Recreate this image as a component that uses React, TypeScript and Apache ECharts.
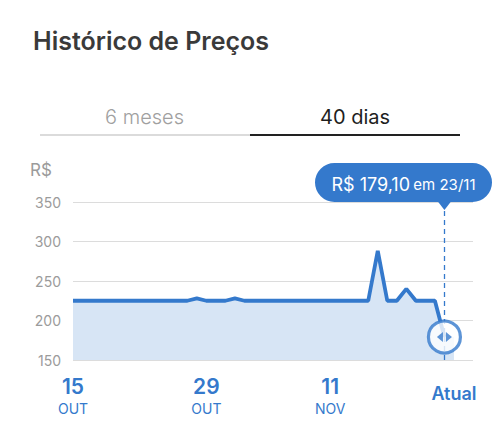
import React, { useEffect, useRef } from "react";
import * as echarts from "echarts";

// Price per day, day 0 = 15/10 ... day 39 = 23/11
const prices: number[] = [
  225, 225, 225, 225, 225, 225, 225, 225, 225, 225,
  225, 225, 225, 228, 225, 225, 225, 228, 225, 225,
  225, 225, 225, 225, 225, 225, 225, 225, 225, 225,
  225, 225, 288, 225, 225, 240, 225, 225, 225, 179.1,
];
const atualDay = 40;
const currentPrice = 179.1;
const currentDate = "23/11";
const tickDays = [0, 14, 27, 40];
const tickDayLabels = ["15", "29", "11", "Atual"];
const tickMonthLabels = ["OUT", "OUT", "NOV", ""];
const yTicks = [150, 200, 250, 300, 350];

const BLUE = "#3479cc";
const FONT = "Inter, 'Noto Sans', sans-serif";

export default function App() {
  const ref = useRef<HTMLDivElement>(null);
  useEffect(() => {
    document.body.style.margin = "0";
    if (!ref.current) return;
    const chart = echarts.init(ref.current, null, { renderer: "svg" });
    const lineData = prices.map((v, i) => [i, v]);
    const areaData = [...lineData, [atualDay, currentPrice]];
    const lastIdx = prices.length - 1;
    chart.setOption({
      animation: false,
      textStyle: { fontFamily: FONT },
      grid: { left: 73, right: 27, top: 202, bottom: 67 },
      xAxis: {
        type: "value",
        min: 0,
        max: 42,
        axisLine: { show: false },
        axisTick: { show: false },
        splitLine: { show: false },
        axisLabel: {
          customValues: tickDays,
          margin: 14,
          formatter: (v: number) => {
            const k = tickDays.indexOf(v);
            if (k < 0) return "";
            if (!tickMonthLabels[k]) return `{a|${tickDayLabels[k]}}`;
            return `{d|${tickDayLabels[k]}}\n{m|${tickMonthLabels[k]}}`;
          },
          rich: {
            d: { fontSize: 21, fontWeight: 600, color: BLUE, lineHeight: 24, fontFamily: FONT },
            m: { fontSize: 14, color: BLUE, lineHeight: 20, fontFamily: FONT },
            a: { fontSize: 18, fontWeight: 600, color: BLUE, lineHeight: 38, fontFamily: FONT },
          },
        },
      },
      yAxis: {
        type: "value",
        min: yTicks[0],
        max: yTicks[yTicks.length - 1],
        interval: 50,
        axisLine: { show: false },
        axisTick: { show: false },
        axisLabel: { color: "#9b9b9b", fontSize: 14, margin: 12, fontFamily: FONT },
        splitLine: { lineStyle: { color: "#dcdcdc", width: 1 } },
      },
      series: [
        {
          type: "line",
          data: areaData,
          showSymbol: false,
          lineStyle: { width: 0 },
          areaStyle: { color: "#d7e5f5", opacity: 1 },
          silent: true,
          z: 1,
        },
        {
          type: "line",
          data: lineData,
          showSymbol: false,
          lineStyle: { color: BLUE, width: 3.8 },
          z: 2,
          markLine: {
            silent: true,
            symbol: "none",
            label: { show: false },
            lineStyle: { color: BLUE, type: [5, 4], width: 1.3 },
            data: [{ xAxis: lastIdx }],
          },
        },
        {
          type: "scatter",
          data: [[lastIdx, currentPrice]],
          symbol: "circle",
          symbolSize: 32,
          itemStyle: { color: "#ffffff", borderColor: BLUE, borderWidth: 3.2 },
          z: 5,
        },
        {
          type: "scatter",
          data: [[lastIdx, currentPrice]],
          symbol: "triangle",
          symbolSize: [10, 6],
          symbolRotate: 90,
          symbolOffset: [-4.5, 0],
          itemStyle: { color: BLUE },
          z: 6,
        },
        {
          type: "scatter",
          data: [[lastIdx, currentPrice]],
          symbol: "triangle",
          symbolSize: [10, 6],
          symbolRotate: -90,
          symbolOffset: [4.5, 0],
          itemStyle: { color: BLUE },
          z: 6,
        },
      ],
    });
    const p = chart.convertToPixel({ gridIndex: 0 }, [lastIdx, currentPrice]) as number[];
    const px = p[0];
    const bubbleRight = Math.min(px + 48, 492);
    const bubbleW = 177;
    const bubbleL = bubbleRight - bubbleW;
    const priceText = "R$ " + currentPrice.toFixed(2).replace(".", ",");
    chart.setOption({
      graphic: [
        {
          type: "text",
          style: { text: "Histórico de Preços", x: 33, y: 41, textVerticalAlign: "middle", font: `600 25px ${FONT}`, fill: "#3a3a3a" },
        },
        {
          type: "text",
          style: { text: "6 meses", x: 144.5, y: 117, textAlign: "center", textVerticalAlign: "middle", font: `300 20px ${FONT}`, fill: "#a0a0a0" },
        },
        {
          type: "text",
          style: { text: "40 dias", x: 355, y: 117, textAlign: "center", textVerticalAlign: "middle", font: `400 20px ${FONT}`, fill: "#1e1e1e" },
        },
        { type: "line", shape: { x1: 40, y1: 135, x2: 250, y2: 135 }, style: { stroke: "#cfcfcf", lineWidth: 1.5 } },
        { type: "line", shape: { x1: 250, y1: 135, x2: 460, y2: 135 }, style: { stroke: "#222222", lineWidth: 2 } },
        {
          type: "text",
          style: { text: "R$", x: 30, y: 170, textVerticalAlign: "middle", font: `400 17px ${FONT}`, fill: "#9b9b9b" },
        },
        {
          type: "rect",
          shape: { x: bubbleL, y: 163, width: bubbleW, height: 39, r: 19.5 },
          style: { fill: BLUE },
          z: 100,
        },
        {
          type: "polygon",
          shape: { points: [[px - 7, 201], [px + 7, 201], [px, 210]] },
          style: { fill: BLUE },
          z: 100,
        },
        {
          type: "text",
          z: 101,
          style: {
            text: `{p|${priceText}} {e|em ${currentDate}}`,
            x: bubbleL + bubbleW / 2,
            y: 184,
            textAlign: "center",
            textVerticalAlign: "middle",
            rich: {
              p: { fontSize: 18, fill: "#ffffff", fontFamily: FONT },
              e: { fontSize: 15, fill: "#ffffff", fontFamily: FONT },
            },
          },
        },
      ],
    });
    return () => chart.dispose();
  }, []);
  return <div ref={ref} style={{ width: 500, height: 427 }} />;
}
